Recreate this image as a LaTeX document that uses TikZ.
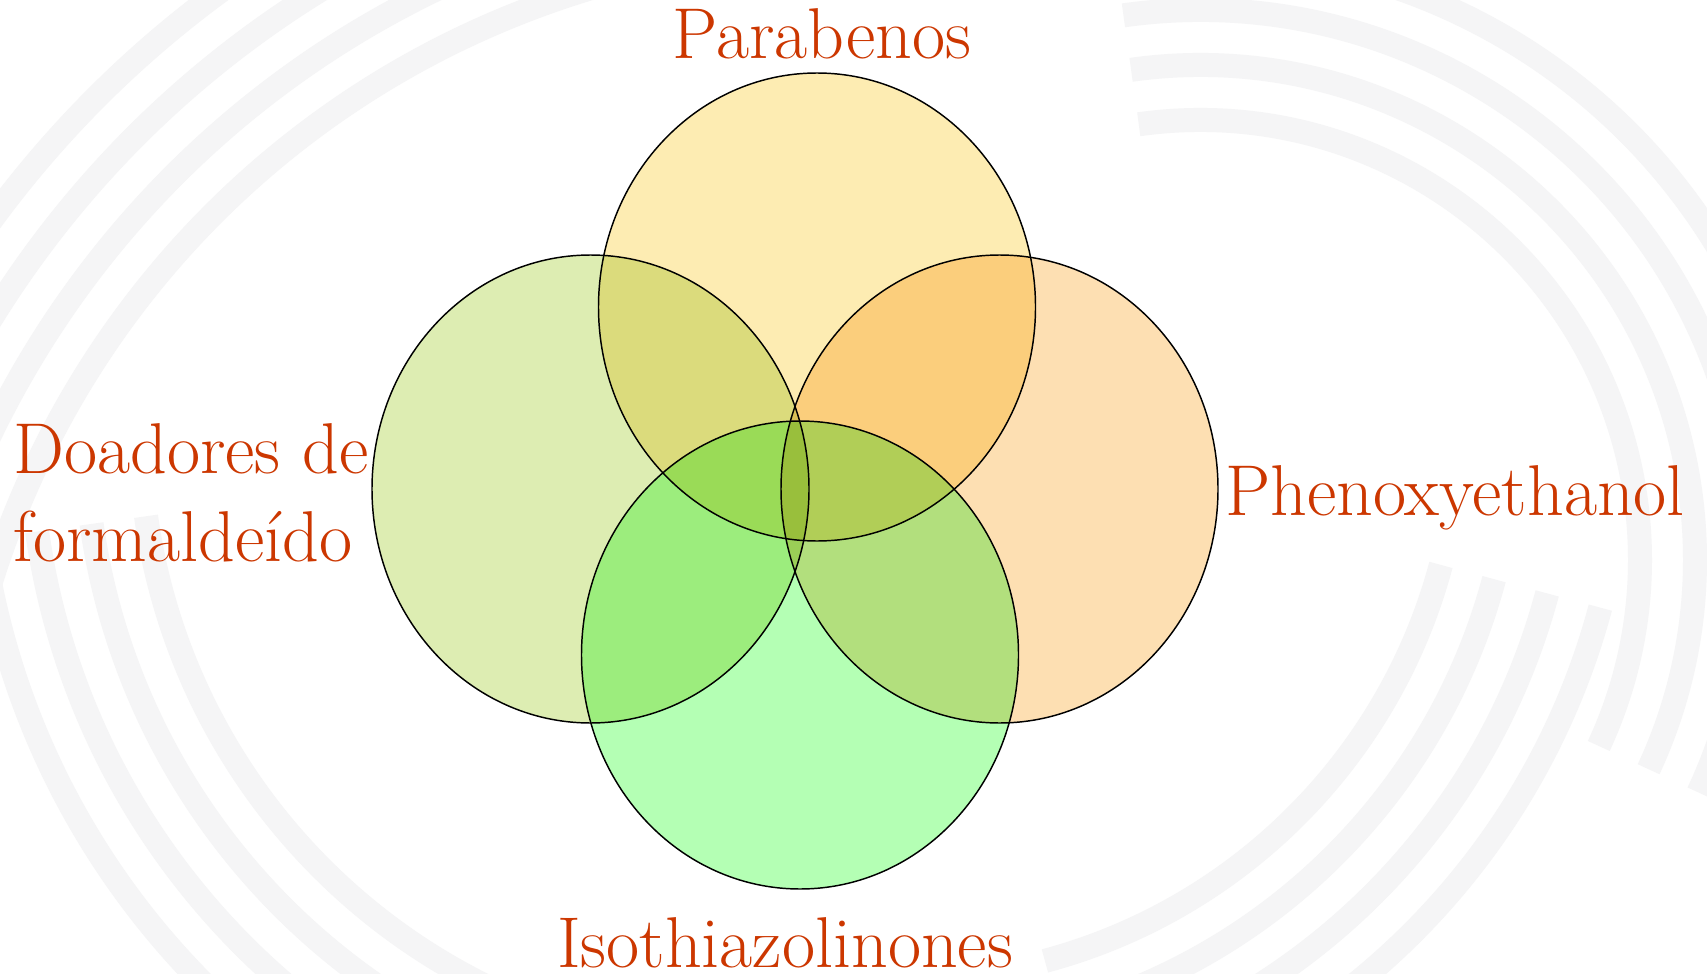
\documentclass[tikz,border=0pt]{standalone}
\usepackage{fontspec}
\usepackage{tikz}
\usetikzlibrary{positioning}
\definecolor{labelred}{RGB}{204,55,0}
\definecolor{parafill}{RGB}{253,236,178}
\definecolor{doafill}{RGB}{221,237,178}
\definecolor{phenfill}{RGB}{253,223,178}
\definecolor{isofill}{RGB}{180,255,180}
\definecolor{swirlgray}{RGB}{245,245,246}
\tikzset{
  venn/.style={draw=black, line width=1.1pt, blend mode=multiply},
  vennlabel/.style={text=labelred, inner sep=0pt, font=\fontsize{54}{66}\selectfont},
  swirl/.style={draw=swirlgray, line width=18pt}
}

\begin{document}
\begin{tikzpicture}[x=0.75pt,y=0.75pt,yscale=-1,xscale=1]
\useasboundingbox[fill=white] (0,0) rectangle (1707,974);

%Background swirl
\foreach \r in {0,55,110,165} {
  \draw[swirl] (850,850) ++(175:{900+\r}) arc[start angle=175, end angle=272, radius={900+\r}];
  \draw[swirl] (1200,560) ++(262:{440+\r}) arc[start angle=262, end angle=385, radius={440+\r}];
  \draw[swirl] (760,430) ++(172:{620+\r}) arc[start angle=172, end angle=100, radius={620+\r}];
  \draw[swirl] (900,420) ++(75:{560+\r}) arc[start angle=75, end angle=15, radius={560+\r}];
}

%Shape: Ellipse [Parabenos]
\draw[venn, fill=parafill] (817,307) ellipse [x radius=218.5, y radius=234];
%Shape: Ellipse [Doadores]
\draw[venn, fill=doafill] (590.5,489) ellipse [x radius=218.5, y radius=234];
%Shape: Ellipse [Phenoxyethanol]
\draw[venn, fill=phenfill] (999.5,489) ellipse [x radius=218.5, y radius=234];
%Shape: Ellipse [Isothiazolinones]
\draw[venn, fill=isofill] (800,655) ellipse [x radius=218.5, y radius=234];

% Text Node
\node[vennlabel, anchor=base] (parabenos) at (822,59) {Parabenos};
% Text Node
\node[vennlabel, anchor=base west, align=left] (doadores) at (13,561) {Doadores de\\formaldeído};
% Text Node
\node[vennlabel, anchor=base west] (phenoxy) at (1225,515) {Phenoxyethanol};
% Text Node
\node[vennlabel, anchor=base] (isothia) at (785,967) {Isothiazolinones};

\end{tikzpicture}
\end{document}
